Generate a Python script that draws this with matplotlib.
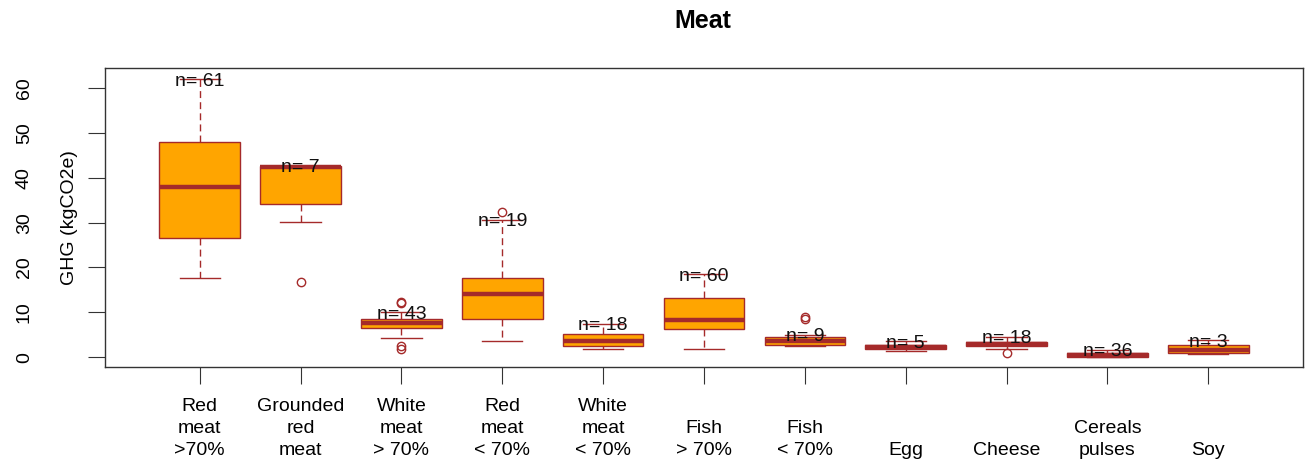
import numpy as np
import matplotlib
matplotlib.use('Agg')
import matplotlib.pyplot as plt

plt.rcParams['font.family'] = ['Liberation Sans', 'DejaVu Sans']

# ── data ──────────────────────────────────────────────────
labels = ["Red\nmeat\n>70%", "Grounded\nred\nmeat", "White\nmeat\n> 70%",
          "Red\nmeat\n< 70%", "White\nmeat\n< 70%", "Fish\n> 70%", "Fish\n< 70%",
          "Egg", "Cheese", "Cereals\npulses", "Soy"]
counts  = [61, 7, 43, 19, 18, 60, 9, 5, 18, 36, 3]
whislo  = [17.7, 30.1, 4.2, 3.6, 1.9, 1.9, 2.5, 1.3, 1.8, 0.0, 0.6]
q1      = [26.5, 34.1, 6.5, 8.4, 2.5, 6.2, 2.7, 1.9, 2.5, 0.1, 1.0]
median  = [38.0, 42.5, 7.6, 14.1, 3.7, 8.2, 3.6, 2.3, 3.0, 0.4, 1.7]
q3      = [47.9, 42.7, 8.4, 17.7, 5.1, 13.2, 4.5, 2.8, 3.4, 0.9, 2.8]
whishi  = [62.0, 42.7, 10.0, 30.7, 7.4, 18.5, 5.0, 3.6, 4.5, 1.6, 3.8]
fliers  = [[], [16.7], [12.0, 12.4, 1.9, 2.4], [32.4], [], [], [8.6, 9.0],
           [], [1.0], [], []]

ORANGE = '#FFA500'
BROWN = '#A52A2A'
FS = 14.0

stats = []
for i in range(len(labels)):
    stats.append(dict(whislo=whislo[i], q1=q1[i], med=median[i], q3=q3[i],
                      whishi=whishi[i], fliers=fliers[i]))

fig = plt.figure(figsize=(13.09, 4.69), dpi=100)
ax = fig.add_axes([105/1309, 1 - 367/469, 1198/1309, 299/469])

pos = np.arange(1, len(labels) + 1)
ax.bxp(stats, positions=pos, widths=0.8, capwidths=0.4, patch_artist=True,
       boxprops=dict(facecolor=ORANGE, edgecolor=BROWN, linewidth=1.0),
       medianprops=dict(color=BROWN, linewidth=3.2, solid_capstyle='butt'),
       whiskerprops=dict(color=BROWN, linewidth=1.0, linestyle=(0, (5, 3))),
       capprops=dict(color=BROWN, linewidth=1.0),
       flierprops=dict(marker='o', markerfacecolor='none', markeredgecolor=BROWN,
                       markersize=6, markeredgewidth=1.0))

# sample sizes at the top whisker
for x, y, n in zip(pos, whishi, counts):
    ax.text(x, y, f"n= {n}", ha='center', va='center_baseline', fontsize=FS,
            color='#111111')

ax.set_xlim(0.06, 11.94)
ax.set_ylim(-2.2, 64.5)

# x labels bottom-aligned (pad to three lines)
padded = ["\n" * (2 - lab.count("\n")) + lab for lab in labels]
ax.set_xticks(pos)
ax.set_xticklabels(padded, fontsize=FS, linespacing=1.4)
ax.set_yticks([0, 10, 20, 30, 40, 50, 60])
ax.set_yticklabels(["0", "10", "20", "30", "40", "50", "60"], rotation=90,
                   va='center', fontsize=FS)
ax.tick_params(axis='x', length=12, pad=10, color='#333333')
ax.tick_params(axis='y', length=12, pad=40, color='#333333')
for s in ax.spines.values():
    s.set_color('#333333')
    s.set_linewidth(1.0)

fig.text(70/1309, 0.5 * ((1 - 68/469) + (1 - 367/469)), "GHG (kgCO2e)",
         rotation=90, ha='center', va='center', fontsize=FS)
fig.text(703/1309, 1 - 28/469, "Meat", ha='center', va='baseline',
         fontsize=18, fontweight='bold')

fig.savefig("out.png", dpi=100)
plt.close(fig)
